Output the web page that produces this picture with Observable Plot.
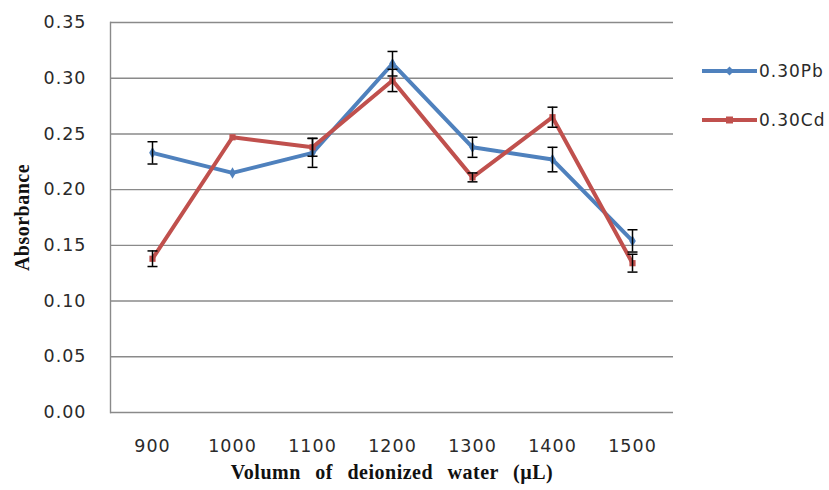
<!DOCTYPE html>
<html><head><meta charset="utf-8">
<script src="https://cdn.jsdelivr.net/npm/d3@7"></script>
<script src="https://cdn.jsdelivr.net/npm/@observablehq/plot@0.6"></script>
<style>
body{margin:0;background:#fff;}
#wrap{position:relative;width:829px;height:490px;background:#fff;}
#wrap svg text{letter-spacing:1px;}
#wrap svg g[aria-label="x-axis label"] text,
#wrap svg g[aria-label="y-axis label"] text{font-family:"Liberation Serif","DejaVu Serif",serif;font-weight:bold;font-size:20px;fill:#111;letter-spacing:0.5px;word-spacing:9px;}
#legend{position:absolute;left:702px;top:59px;font-family:"DejaVu Sans",sans-serif;font-size:17px;color:#2a2a2a;letter-spacing:1px;}
#legend .row{display:flex;align-items:center;height:24px;margin-bottom:25px;}
#legend svg{margin-right:2px;}
</style></head><body><div id="wrap"></div>
<script>
const volumes = [900, 1000, 1100, 1200, 1300, 1400, 1500];
const pbValues = [0.233, 0.215, 0.233, 0.313, 0.238, 0.227, 0.154];
const pbErrors = [0.010, 0, 0.013, 0.011, 0.009, 0.011, 0.010];
const cdValues = [0.138, 0.247, 0.238, 0.298, 0.211, 0.265, 0.134];
const cdErrors = [0.007, 0, 0.008, 0.010, 0.004, 0.009, 0.008];
const seriesNames = ["0.30Pb", "0.30Cd"];
const seriesColors = ["#4F81BD", "#C0504D"];
const seriesSymbols = ["diamond", "square"];
const yTicks = [0, 0.05, 0.10, 0.15, 0.20, 0.25, 0.30, 0.35];

const rows = [];
[pbValues, cdValues].forEach((vals, s) => {
  const errs = s === 0 ? pbErrors : cdErrors;
  vals.forEach((v, i) => rows.push({series: seriesNames[s], volume: volumes[i], value: v, err: errs[i]}));
});
const errRows = rows.filter(d => d.err > 0);

const cap = {draw(ctx, size) { const w = Math.sqrt(size / Math.PI); ctx.moveTo(-w, 0); ctx.lineTo(w, 0); }};

const chart = Plot.plot({
  width: 829, height: 490,
  marginLeft: 110, marginRight: 156, marginTop: 22, marginBottom: 78,
  style: {fontFamily: "DejaVu Sans, sans-serif", fontSize: "17.5px", color: "#2a2a2a", background: "#fff"},
  x: {type: "point", domain: volumes, padding: 0.5},
  y: {domain: [0, 0.35]},
  color: {domain: seriesNames, range: seriesColors},
  marks: [
    Plot.gridY(yTicks, {stroke: "#8a8a8a", strokeOpacity: 1, strokeWidth: 1.4}),
    Plot.frame({anchor: "left", stroke: "#8a8a8a", strokeWidth: 1.4}),
    Plot.axisY(yTicks, {tickSize: 0, tickPadding: 24, tickFormat: d3.format(".2f"), label: "Absorbance", labelAnchor: "center", labelArrow: "none", labelOffset: 96}),
    Plot.axisX(volumes, {tickSize: 0, tickPadding: 27, tickFormat: d => String(d), label: "Volumn of deionized water (µL)", labelAnchor: "center", labelArrow: "none", labelOffset: 66}),
    Plot.line(rows, {x: "volume", y: "value", z: "series", stroke: "series", strokeWidth: 4, strokeLinejoin: "round"}),
    Plot.dot(rows, {x: "volume", y: "value", fill: "series", symbol: d => d.series === seriesNames[0] ? "diamond" : "square", r: 3.5}),
    Plot.ruleX(errRows, {x: "volume", y1: d => d.value - d.err, y2: d => d.value + d.err, stroke: "#000", strokeWidth: 1.5}),
    Plot.dot(errRows, {x: "volume", y: d => d.value - d.err, symbol: cap, r: 5, stroke: "#000", strokeWidth: 1.5}),
    Plot.dot(errRows, {x: "volume", y: d => d.value + d.err, symbol: cap, r: 5, stroke: "#000", strokeWidth: 1.5})
  ]
});
const wrap = document.getElementById("wrap");
wrap.appendChild(chart);

const legend = document.createElement("div");
legend.id = "legend";
const symPath = {diamond: "M27.5,1.5 L32,6 L27.5,10.5 L23,6 Z", square: "M24,2.5 H31 V9.5 H24 Z"};
seriesNames.forEach((name, i) => {
  const row = document.createElement("div");
  row.className = "row";
  row.innerHTML = `<svg width="55" height="12"><line x1="0" x2="55" y1="6" y2="6" stroke="${seriesColors[i]}" stroke-width="4"/><path d="${symPath[seriesSymbols[i]]}" fill="${seriesColors[i]}"/></svg><span>${name}</span>`;
  legend.appendChild(row);
});
wrap.appendChild(legend);
</script></body></html>
